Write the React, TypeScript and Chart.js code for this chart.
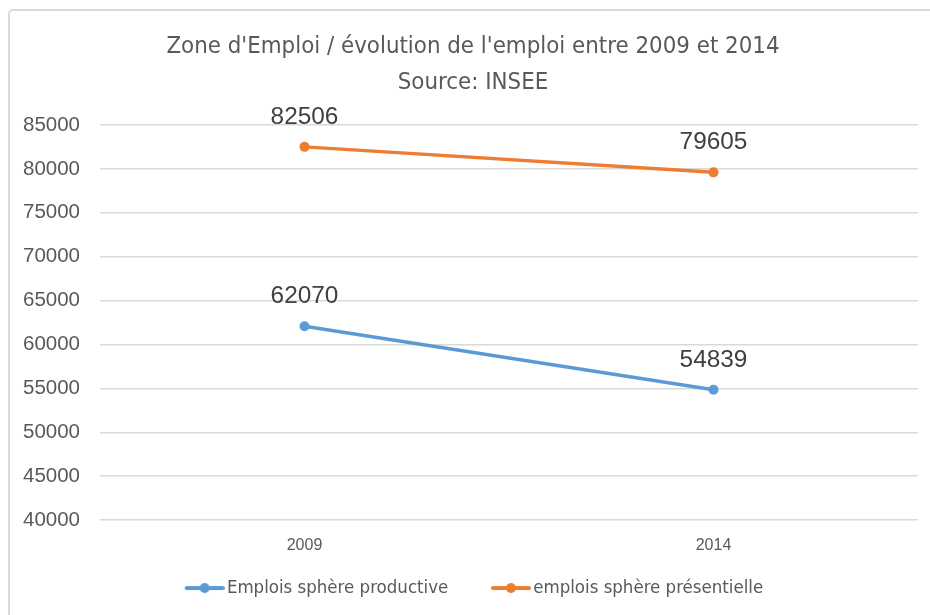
import React, { useEffect, useRef } from "react";
import { Chart, registerables } from "chart.js";

Chart.register(...registerables);

const categories = ["2009", "2014"];
const productive = [62070, 54839];
const presentielle = [82506, 79605];
const seriesNames = ["Emplois sphère productive", "emplois sphère présentielle"];
const titleLines = ["Zone d'Emploi / évolution de l'emploi entre 2009 et 2014", "Source: INSEE"];
const yMin = 40000;
const yMax = 85000;
const yStep = 5000;

const BLUE = "#5B9BD5";
const ORANGE = "#ED7D31";
const NARROW = "'Liberation Sans Narrow', 'DejaVu Sans Condensed', sans-serif";
const SANS = "'Liberation Sans', Arial, sans-serif";

// legend marker: transparent left part, then line + dot (40px) on the right
function legendMarker(color: string): HTMLCanvasElement {
  const c = document.createElement("canvas");
  c.width = 70;
  c.height = 12;
  const ctx = c.getContext("2d")!;
  ctx.strokeStyle = color;
  ctx.lineWidth = 4;
  ctx.lineCap = "round";
  ctx.beginPath();
  ctx.moveTo(32, 6);
  ctx.lineTo(68, 6);
  ctx.stroke();
  ctx.fillStyle = color;
  ctx.beginPath();
  ctx.arc(50, 6, 5, 0, Math.PI * 2);
  ctx.fill();
  return c;
}

const borderPlugin = {
  id: "frameBorder",
  beforeDraw(chart: any) {
    const ctx = chart.ctx;
    ctx.save();
    ctx.fillStyle = "#ffffff";
    ctx.fillRect(0, 0, chart.width, chart.height);
    ctx.strokeStyle = "#d9d9d9";
    ctx.lineWidth = 2;
    ctx.beginPath();
    ctx.moveTo(9, chart.height + 5);
    ctx.lineTo(9, 14);
    ctx.arcTo(9, 10, 13, 10, 4);
    ctx.lineTo(chart.width + 5, 10);
    ctx.stroke();
    ctx.restore();
  },
};

const dataLabelPlugin = {
  id: "dataLabels",
  afterDatasetsDraw(chart: any) {
    const ctx = chart.ctx;
    ctx.save();
    ctx.font = `24.4px ${SANS}`;
    ctx.fillStyle = "#404040";
    ctx.textAlign = "center";
    ctx.textBaseline = "middle";
    chart.data.datasets.forEach((ds: any, i: number) => {
      const meta = chart.getDatasetMeta(i);
      meta.data.forEach((pt: any, j: number) => {
        ctx.fillText(String(ds.data[j]), pt.x, pt.y - 30);
      });
    });
    ctx.restore();
  },
};

export default function App() {
  const ref = useRef<HTMLCanvasElement | null>(null);
  useEffect(() => {
    if (!ref.current) return;
    const markers = [legendMarker(BLUE), legendMarker(ORANGE)];
    const chart = new Chart(ref.current, {
      type: "line",
      data: {
        labels: categories,
        datasets: [
          {
            label: seriesNames[0],
            data: productive,
            borderColor: BLUE,
            backgroundColor: BLUE,
            borderWidth: 3.5,
            pointRadius: 5,
            pointBorderWidth: 0,
            pointBackgroundColor: BLUE,
            pointStyle: "circle",
          },
          {
            label: seriesNames[1],
            data: presentielle,
            borderColor: ORANGE,
            backgroundColor: ORANGE,
            borderWidth: 3.5,
            pointRadius: 5,
            pointBorderWidth: 0,
            pointBackgroundColor: ORANGE,
            pointStyle: "circle",
          },
        ],
      },
      options: {
        animation: false,
        responsive: false,
        layout: { padding: { left: 16, right: 0, top: 0, bottom: 7.7 } },
        scales: {
          x: {
            offset: true,
            grid: { display: false, drawTicks: false },
            border: { display: false },
            ticks: { color: "#595959", font: { family: SANS, size: 16 }, padding: 16 },
            afterFit: (scale: any) => {
              scale.height = 39;
            },
          },
          y: {
            min: yMin,
            max: yMax,
            grid: { color: "#d9d9d9", lineWidth: 1.5, drawTicks: false },
            border: { display: false },
            ticks: {
              stepSize: yStep,
              color: "#595959",
              font: { family: SANS, size: 20.5 },
              padding: 20,
              callback: (v: any) => String(v),
            },
            afterFit: (scale: any) => {
              scale.width = 84;
            },
          },
          yRight: {
            position: "right",
            min: yMin,
            max: yMax,
            grid: { display: false, drawTicks: false },
            border: { display: false },
            ticks: { display: false },
            afterFit: (scale: any) => {
              scale.width = 12;
            },
          },
        },
        plugins: {
          title: {
            display: true,
            text: titleLines,
            color: "#595959",
            font: { family: NARROW, size: 23.8, weight: "normal", lineHeight: 1.51 },
            padding: { top: 29, bottom: 24.1 },
          },
          legend: {
            position: "bottom",
            labels: {
              usePointStyle: true,
              pointStyleWidth: 56,
              padding: 19.7,
              color: "#595959",
              font: { family: NARROW, size: 18.5, lineHeight: 1.33 },
              generateLabels: (chart: any) =>
                chart.data.datasets.map((ds: any, i: number) => ({
                  // trailing spaces on the last entry only balance the centring
                  text: i === chart.data.datasets.length - 1 ? ds.label + "    " : ds.label,
                  fillStyle: ds.borderColor,
                  strokeStyle: ds.borderColor,
                  lineWidth: 0,
                  pointStyle: markers[i],
                  hidden: false,
                  datasetIndex: i,
                  fontColor: "#595959",
                })),
            },
          },
          tooltip: { enabled: false },
        },
      },
      plugins: [borderPlugin, dataLabelPlugin],
    });
    return () => chart.destroy();
  }, []);
  return (
    <div style={{ position: "absolute", left: 0, top: 0, width: 930, height: 615, background: "#fff" }}>
      <canvas ref={ref} width={930} height={615} style={{ display: "block", width: 930, height: 615 }} />
    </div>
  );
}
